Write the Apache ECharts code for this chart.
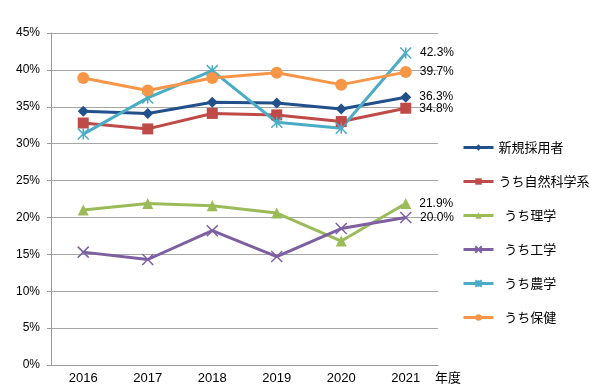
<!DOCTYPE html>
<html><head><meta charset="utf-8">
<script src="https://cdn.jsdelivr.net/npm/echarts@6/dist/echarts.min.js"></script>
<style>html,body{margin:0;padding:0;background:#fff}#c{width:600px;height:389px}</style>
</head><body><div id="c"></div>
<script>
const years = ['2016','2017','2018','2019','2020','2021'];
const yTicks = [0,5,10,15,20,25,30,35,40,45];
const sNames = ['新規採用者','うち自然科学系','うち理学','うち工学','うち農学','うち保健'];
const shinki  = [34.4, 34.1, 35.6, 35.5, 34.7, 36.3];
const shizen  = [32.8, 32.0, 34.1, 33.9, 33.0, 34.8];
const rigaku  = [21.0, 21.9, 21.6, 20.6, 16.8, 21.9];
const kougaku = [15.3, 14.3, 18.2, 14.7, 18.5, 20.0];
const nougaku = [31.3, 36.2, 39.9, 32.9, 32.1, 42.3];
const hoken   = [38.9, 37.2, 38.9, 39.6, 38.0, 39.7];

const values = [shinki, shizen, rigaku, kougaku, nougaku, hoken];
const colors = ['#21508B','#BE4B48','#9BBB59','#7E5FA2','#4BACC6','#F79646'];
const symbols = ['diamond','rect','triangle',
  'path://M0,0L10,10M10,0L0,10',
  'path://M0,0L10,10M10,0L0,10M5,0L5,10',
  'circle'];
const symSizes = [11,11,11,11,11,12];

const series = sNames.map((n,k)=>({
  name:n, type:'line',
  data: values[k].map((v,i)=> i===values[k].length-1 ? {value:v,label:{show:true}} : v),
  symbol: symbols[k], symbolSize: symSizes[k],
  showAllSymbol:true,
  lineStyle:{color:colors[k], width:3},
  itemStyle:{color:colors[k], borderColor:colors[k], borderWidth:(k===3||k===4)?1.5:0},
  label:{show:false, position:'right', distance:8, color:'#000', fontSize:12,
    fontFamily:'Liberation Sans, Arial, sans-serif',
    formatter:p=>p.value.toFixed(1)+'%'},
  emphasis:{disabled:true},
  animation:false
}));

const chart = echarts.init(document.getElementById('c'));
chart.setOption({
  backgroundColor:'#fff',
  animation:false,
  grid:{left:51, right:162, top:33, bottom:24},
  xAxis:{type:'category', data:years, boundaryGap:true,
    axisLine:{lineStyle:{color:'#999', width:1}},
    axisTick:{show:false},
    axisLabel:{color:'#000', fontSize:13, margin:7, fontFamily:'Liberation Sans, Arial, sans-serif'},
    name:'年度', nameLocation:'end', nameGap:-3,
    nameTextStyle:{color:'#000', fontSize:13, fontFamily:'Noto Sans CJK JP', verticalAlign:'top', padding:[6,0,0,0]}
  },
  yAxis:{type:'value', min:0, max:45, interval:5,
    axisLine:{show:true, lineStyle:{color:'#999'}},
    axisTick:{show:true, length:4, lineStyle:{color:'#999'}},
    splitLine:{lineStyle:{color:'#A6A6A6', width:1}},
    axisLabel:{color:'#000', fontSize:12, margin:11, fontFamily:'Liberation Sans, Arial, sans-serif',
      formatter:v=> yTicks.includes(v) ? v+'%' : ''}
  },
  legend:{orient:'vertical', left:462, top:141, padding:0, itemWidth:30, itemHeight:8, itemGap:21,
    data:sNames,
    lineStyle:{width:3},
    formatter:n=> (sNames.indexOf(n)>=2 ? '  ' : '')+n,
    textStyle:{color:'#000', fontSize:13, fontFamily:'Noto Sans CJK JP'}},
  series
});
</script></body></html>
